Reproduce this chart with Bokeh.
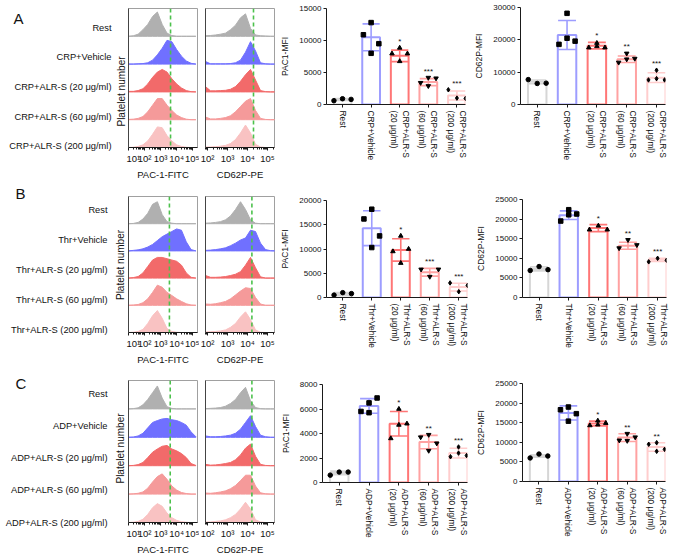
import math
from bokeh.plotting import figure
from bokeh.layouts import row, column
from bokeh.models import LinearAxis, FixedTicker, Range1d, ColumnDataSource, Span
from bokeh.embed import file_html
from bokeh.resources import INLINE
from bokeh.core.properties import value

FONT = "Liberation Sans"

# ------------------------------------------------------------------ data
PAC_X = [1.0, 1.3, 1.6, 1.9, 2.2, 2.5, 2.8, 3.1, 3.4, 3.7, 4.0, 4.3, 4.6, 4.9, 5.2]
CD_X = [1.9, 2.15, 2.4, 2.65, 2.9, 3.15, 3.4, 3.65, 3.9, 4.15, 4.4, 4.65, 4.9, 5.15, 5.4]
PAC_TICKS = [1, 2, 3, 4, 5]
PAC_TICK_LABELS = ["10¹", "10²", "10³", "10⁴", "10⁵"]
CD_TICKS = [2, 3, 4, 5]
CD_TICK_LABELS = ["10²", "10³", "10⁴", "10⁵"]

ROW_LABELS_A = ["Rest", "CRP+Vehicle", "CRP+ALR-S (20 μg/ml)", "CRP+ALR-S (60 μg/ml)", "CRP+ALR-S (200 μg/ml)"]
ROW_LABELS_B = ["Rest", "Thr+Vehicle", "Thr+ALR-S (20 μg/ml)", "Thr+ALR-S (60 μg/ml)", "Thr+ALR-S (200 μg/ml)"]
ROW_LABELS_C = ["Rest", "ADP+Vehicle", "ADP+ALR-S (20 μg/ml)", "ADP+ALR-S (60 μg/ml)", "ADP+ALR-S (200 μg/ml)"]
CATS_A = ["Rest", "CRP+Vehicle", "CRP+ALR-S\n(20 μg/ml)", "CRP+ALR-S\n(60 μg/ml)", "CRP+ALR-S\n(200 μg/ml)"]
CATS_B = ["Rest", "Thr+Vehicle", "Thr+ALR-S\n(20 μg/ml)", "Thr+ALR-S\n(60 μg/ml)", "Thr+ALR-S\n(200 μg/ml)"]
CATS_C = ["Rest", "ADP+Vehicle", "ADP+ALR-S\n(20 μg/ml)", "ADP+ALR-S\n(60 μg/ml)", "ADP+ALR-S\n(200 μg/ml)"]

GATE_PAC = [3.62, 3.55, 3.6]
GATE_CD = [4.3, 4.22, 4.22]

A_PAC_HIST = [
    [0, 0.02, 0.08, 0.25, 0.45, 0.75, 0.92, 0.45, 0.12, 0.03, 0, 0, 0, 0, 0],
    [0, 0, 0.01, 0.02, 0.05, 0.15, 0.35, 0.6, 0.9, 0.85, 0.55, 0.3, 0.12, 0.03, 0],
    [0.02, 0.02, 0.05, 0.12, 0.3, 0.55, 0.75, 0.85, 0.75, 0.5, 0.3, 0.15, 0.05, 0.01, 0],
    [0.01, 0.02, 0.05, 0.12, 0.3, 0.55, 0.8, 0.8, 0.55, 0.35, 0.18, 0.08, 0.02, 0, 0],
    [0, 0.01, 0.04, 0.1, 0.25, 0.5, 0.78, 0.75, 0.45, 0.25, 0.1, 0.04, 0.01, 0, 0],
]
A_CD_HIST = [
    [0.02, 0.03, 0.05, 0.08, 0.12, 0.25, 0.42, 0.7, 0.85, 0.3, 0.05, 0.02, 0.01, 0, 0],
    [0.1, 0.01, 0.01, 0.01, 0.01, 0.02, 0.05, 0.15, 0.45, 0.85, 0.5, 0.05, 0.01, 0, 0],
    [0.2, 0.04, 0.04, 0.05, 0.06, 0.1, 0.2, 0.4, 0.65, 0.85, 0.45, 0.05, 0.01, 0, 0],
    [0.1, 0.03, 0.03, 0.05, 0.08, 0.15, 0.3, 0.5, 0.7, 0.8, 0.35, 0.05, 0.01, 0, 0],
    [0.02, 0.02, 0.03, 0.05, 0.08, 0.15, 0.3, 0.55, 0.85, 0.55, 0.12, 0.02, 0, 0, 0],
]
B_PAC_HIST = [
    [0, 0.01, 0.05, 0.18, 0.4, 0.75, 0.85, 0.35, 0.08, 0.02, 0, 0, 0, 0, 0],
    [0, 0.02, 0.04, 0.08, 0.15, 0.25, 0.4, 0.55, 0.65, 0.75, 0.85, 0.8, 0.35, 0.05, 0],
    [0, 0.02, 0.06, 0.2, 0.45, 0.7, 0.8, 0.8, 0.75, 0.7, 0.65, 0.5, 0.2, 0.03, 0],
    [0, 0.01, 0.03, 0.1, 0.25, 0.5, 0.78, 0.7, 0.5, 0.38, 0.25, 0.15, 0.06, 0.01, 0],
    [0, 0.01, 0.04, 0.12, 0.35, 0.65, 0.85, 0.55, 0.15, 0.04, 0.01, 0, 0, 0, 0],
]
B_CD_HIST = [
    [0.02, 0.03, 0.05, 0.08, 0.15, 0.3, 0.55, 0.85, 0.55, 0.15, 0.02, 0, 0, 0, 0],
    [0.02, 0.03, 0.05, 0.08, 0.12, 0.2, 0.3, 0.42, 0.5, 0.8, 0.75, 0.3, 0.05, 0.01, 0],
    [0.1, 0.03, 0.03, 0.04, 0.06, 0.1, 0.15, 0.25, 0.5, 0.8, 0.4, 0.05, 0, 0, 0],
    [0.05, 0.04, 0.06, 0.1, 0.15, 0.25, 0.4, 0.55, 0.68, 0.65, 0.3, 0.05, 0, 0, 0],
    [0.02, 0.03, 0.04, 0.06, 0.1, 0.2, 0.35, 0.6, 0.8, 0.5, 0.1, 0.01, 0, 0, 0],
]
C_PAC_HIST = [
    [0, 0.01, 0.04, 0.15, 0.35, 0.6, 0.85, 0.4, 0.08, 0.02, 0, 0, 0, 0, 0],
    [0, 0.01, 0.05, 0.15, 0.35, 0.55, 0.62, 0.68, 0.7, 0.65, 0.62, 0.55, 0.45, 0.2, 0.02],
    [0, 0.01, 0.04, 0.12, 0.3, 0.5, 0.62, 0.72, 0.75, 0.62, 0.55, 0.45, 0.3, 0.08, 0.01],
    [0, 0.01, 0.03, 0.08, 0.22, 0.45, 0.65, 0.75, 0.55, 0.3, 0.15, 0.06, 0.02, 0, 0],
    [0, 0.01, 0.04, 0.12, 0.3, 0.55, 0.7, 0.6, 0.35, 0.18, 0.08, 0.03, 0.01, 0, 0],
]
C_CD_HIST = [
    [0.01, 0.02, 0.03, 0.05, 0.1, 0.2, 0.35, 0.6, 0.8, 0.3, 0.05, 0.01, 0, 0, 0],
    [0.05, 0.02, 0.02, 0.03, 0.05, 0.08, 0.15, 0.3, 0.55, 0.8, 0.4, 0.08, 0.02, 0, 0],
    [0.05, 0.02, 0.03, 0.05, 0.08, 0.12, 0.22, 0.4, 0.65, 0.8, 0.35, 0.05, 0.01, 0, 0],
    [0.04, 0.03, 0.05, 0.08, 0.12, 0.2, 0.32, 0.5, 0.7, 0.7, 0.3, 0.05, 0.01, 0, 0],
    [0.02, 0.02, 0.04, 0.06, 0.1, 0.18, 0.3, 0.5, 0.75, 0.5, 0.1, 0.02, 0, 0, 0],
]

A_PAC_MEAN = [780, 10500, 7600, 3500, 1400]
A_PAC_SD = [150, 2100, 900, 550, 700]
A_PAC_PTS = [[600, 900, 800], [12800, 10900, 9500, 8000], [8850, 7950, 7950, 6750], [4200, 3400, 4100, 2900], [2300, 1000, 950]]
A_PAC_STARS = ["", "", "*", "***", "***"]
A_PAC_TICKS = [0, 5000, 10000, 15000]

A_CD_MEAN = [7000, 21500, 18200, 14000, 8300]
A_CD_SD = [600, 4500, 1000, 1000, 1500]
A_CD_PTS = [[7700, 6500, 6600], [28200, 18600, 19600, 20500], [19000, 17600, 17600, 18000], [15800, 13000, 14200, 14000], [10600, 7600, 7600, 8000]]
A_CD_STARS = ["", "", "*", "**", "***"]
A_CD_TICKS = [0, 10000, 20000, 30000]

B_PAC_MEAN = [750, 14300, 9800, 5200, 2150]
B_PAC_SD = [250, 3600, 2300, 800, 800]
B_PAC_PTS = [[500, 1000, 800], [18200, 16200, 12700, 10300], [12700, 9500, 10000, 7100], [5800, 4300, 5800], [3000, 1200, 2500]]
B_PAC_STARS = ["", "", "*", "***", "***"]
B_PAC_TICKS = [0, 5000, 10000, 15000, 20000]

B_CD_MEAN = [7300, 21000, 17700, 13200, 9600]
B_CD_SD = [500, 1100, 900, 900, 400]
B_CD_PTS = [[6900, 7900, 7100], [22400, 19500, 21300, 21100], [17300, 18300, 17300], [12600, 14700, 13400], [9100, 10000, 9500]]
B_CD_STARS = ["", "", "*", "**", "***"]
B_CD_TICKS = [0, 5000, 10000, 15000, 20000, 25000]

C_PAC_MEAN = [780, 6250, 4800, 3300, 2400]
C_PAC_SD = [150, 600, 1000, 550, 400]
C_PAC_PTS = [[600, 850, 850], [6500, 5800, 6900, 5700], [6000, 3600, 4800, 4700], [3900, 3700, 3200, 2600], [2900, 2100, 2200, 2400]]
C_PAC_STARS = ["", "", "*", "**", "***"]
C_PAC_TICKS = [0, 2000, 4000, 6000, 8000]

C_CD_MEAN = [6500, 17500, 14800, 11200, 8800]
C_CD_SD = [300, 1800, 600, 1000, 1100]
C_CD_PTS = [[6000, 7000, 6500], [19000, 18300, 17300, 15400], [15500, 14300, 14900, 14500], [12200, 10500, 11300, 10400], [9900, 9500, 8200, 7700]]
C_CD_STARS = ["", "", "*", "**", "**"]
C_CD_TICKS = [0, 5000, 10000, 15000, 20000, 25000]

# ------------------------------------------------------------------ style
HIST_COLORS = ["#b0b0b0", "#7070ff", "#f26a6a", "#f59a9a", "#f9c2c2"]
BAR_COLORS = ["#d6d6d6", "#9d9dff", "#ff7676", "#ffa2a2", "#ffcdcd"]
MARKERS = ["circle", "square", "triangle", "inverted_triangle", "diamond"]
JIT = {3: [-0.3, 0.0, 0.3], 4: [0.0, -0.27, 0.27, 0.0]}
AXIS_COLOR = "#1a1a1a"
TXT = "#111111"


def style_axis(ax, tick_size="8.5px", label_size="9.5px"):
    ax.major_label_text_font = FONT
    ax.major_label_text_font_size = tick_size
    ax.major_label_text_color = TXT
    ax.axis_label_text_font = FONT
    ax.axis_label_text_font_size = label_size
    ax.axis_label_text_font_style = "normal"
    ax.axis_label_text_color = TXT
    ax.axis_line_color = AXIS_COLOR
    ax.major_tick_line_color = AXIS_COLOR
    ax.minor_tick_line_color = AXIS_COLOR
    ax.major_tick_in = 0
    ax.minor_tick_in = 0
    ax.major_tick_out = 3
    ax.minor_tick_out = 2


def base_fig(w, h, bl, br, bt, bb, xr, yr):
    p = figure(width=w, height=h, x_range=Range1d(*xr), y_range=Range1d(*yr),
               x_axis_type=None, y_axis_type=None, output_backend="svg",
               toolbar_location=None, min_border_left=bl, min_border_right=br,
               min_border_top=bt, min_border_bottom=bb)
    p.frame_align = False
    p.background_fill_color = "white"
    p.border_fill_color = "white"
    return p


def make_labels(w, h, lab):
    """Row labels, 'Platelet number' and the panel letter, placed in pixel space."""
    p = base_fig(w, h, 0, 0, 0, 0, (0, w), (0, h))
    p.outline_line_color = None
    ys = [h - (lab["first"] + lab["step"] * i) for i in range(len(lab["rows"]))]
    p.text(x=[lab["right"]] * len(ys), y=ys, text=lab["rows"], text_font=value(FONT),
           text_font_size="9.3px", text_align="right", text_baseline="middle", text_color=TXT)
    p.text(x=[lab["pn_x"]], y=[h - lab["pn_y"]], text=["Platelet number"], angle=math.pi / 2,
           text_font=value(FONT), text_font_size="10px", text_align="center",
           text_baseline="middle", text_color=TXT)
    p.text(x=[lab["letter_x"]], y=[h - lab["letter_y"]], text=[lab["letter"]],
           text_font=value(FONT), text_font_size="15px", text_align="left",
           text_baseline="top", text_color=TXT)
    return p


def make_hist(geom, h, xr, xpts, hists, gate, ticks, tick_labels, xlabel):
    w, bl, br, bt, bb = geom
    p = base_fig(w, h, bl, br, bt, bb, xr, (0, 10))
    p.outline_line_color = "#a0a0a0"
    xs, ys = [], []
    for i, vals in enumerate(hists):
        base = 8 - 2 * i
        xs.append(list(xpts) + list(xpts[::-1]))
        ys.append([base + 1.9 * v for v in vals] + [base] * len(xpts))
    src = ColumnDataSource(dict(xs=xs, ys=ys, c=HIST_COLORS))
    p.patches(xs="xs", ys="ys", fill_color="c", line_color="c", line_width=1, source=src)
    p.add_layout(Span(location=gate, dimension="height", line_color="#4cc14c",
                      line_dash="4 3", line_width=1.6))
    minor = [n + math.log10(k) for n in range(0, 6) for k in range(2, 10)]
    minor = [m for m in minor if xr[0] < m < xr[1]]
    xax = LinearAxis(ticker=FixedTicker(ticks=ticks, minor_ticks=minor),
                     major_label_overrides={t: l for t, l in zip(ticks, tick_labels)},
                     axis_label=xlabel)
    style_axis(xax, "9.5px", "9.5px")
    xax.major_label_standoff = 2
    xax.axis_label_standoff = 2
    p.add_layout(xax, "below")
    ax1 = LinearAxis(ticker=FixedTicker(ticks=[]))
    style_axis(ax1)
    ax1.major_tick_out = 0
    ax1.minor_tick_out = 0
    ax1.major_label_standoff = 0
    ax1.axis_line_color = "#444444"
    p.add_layout(ax1, "left")
    return p


def make_bar(geom, h, means, sds, pts, stars, yticks, ylabel, cats):
    w, bl, br, bt, bb = geom
    ymax = yticks[-1]
    p = base_fig(w, h, bl, br, bt, bb, (-0.56, 4.3), (0, ymax))
    p.outline_line_color = None
    yax = LinearAxis(ticker=FixedTicker(ticks=yticks), axis_label=ylabel)
    style_axis(yax, "8px", "8.5px")
    yax.major_label_standoff = 2
    yax.axis_label_standoff = 6
    p.add_layout(yax, "left")
    xax = LinearAxis(ticker=FixedTicker(ticks=list(range(len(cats)))),
                     major_label_overrides={i: c for i, c in enumerate(cats)})
    style_axis(xax, "8.4px")
    xax.major_label_orientation = "vertical"
    xax.major_label_standoff = 3
    p.add_layout(xax, "below")

    idx = list(range(len(means)))
    lo = [m - s for m, s in zip(means, sds)]
    hi = [m + s for m, s in zip(means, sds)]
    bsrc = ColumnDataSource(dict(x=idx, top=means, lo=lo, hi=hi, c=BAR_COLORS,
                                 x0=[i - 0.3 for i in idx], x1=[i + 0.3 for i in idx]))
    p.vbar(x="x", top="top", width=0.62, bottom=0, fill_color="white", line_color="c",
           line_width=2, source=bsrc)
    p.segment(x0="x", y0="lo", x1="x", y1="hi", line_color="c", line_width=1.6, source=bsrc)
    p.segment(x0="x0", y0="hi", x1="x1", y1="hi", line_color="c", line_width=1.6, source=bsrc)
    p.segment(x0="x0", y0="lo", x1="x1", y1="lo", line_color="c", line_width=1.6, source=bsrc)

    px, py, pm = [], [], []
    for g, vals in enumerate(pts):
        for o, v in zip(JIT[len(vals)], vals):
            px.append(g + o)
            py.append(v)
            pm.append(MARKERS[g])
    p.scatter(x="x", y="y", marker="m", size=4.5, fill_color="black", line_color="black",
              source=ColumnDataSource(dict(x=px, y=py, m=pm)))

    sy = [max(max(v), hh) + 0.02 * ymax for v, hh in zip(pts, hi)]
    p.text(x=idx, y=sy, text=stars, text_font=value(FONT), text_font_size="8px",
           text_align="center", text_baseline="bottom", text_color=TXT)
    return p


def panel(h, lab, geoms, hists, bar1, bar2, cats):
    gL, gH1, gH2, gB1, gB2 = geoms
    lf = make_labels(gL, h, lab)
    h1 = make_hist(gH1, h, (1.0, 5.3), PAC_X, hists[0], hists[2],
                   PAC_TICKS, PAC_TICK_LABELS, "PAC-1-FITC")
    h2 = make_hist(gH2, h, (1.9, 5.35), CD_X, hists[1], hists[3],
                   CD_TICKS, CD_TICK_LABELS, "CD62P-PE")
    b1 = make_bar(gB1, h, *bar1, "PAC1-MFI", cats)
    b2 = make_bar(gB2, h, *bar2, "CD62P-MFI", cats)
    return row(lf, h1, h2, b1, b2)


# geometry: label width, then (width, border_left, border_right, border_top, border_bottom)
rowA = panel(182,
             dict(rows=ROW_LABELS_A, first=27, step=29.7, right=111, pn_x=120.5, pn_y=91,
                  letter="A", letter_x=13, letter_y=9),
             [126, (73, 2, 2, 8, 29), (78, 6, 3, 8, 29), (191, 41, 3, 8, 78), (209, 52, 12, 7, 78)],
             (A_PAC_HIST, A_CD_HIST, GATE_PAC[0], GATE_CD[0]),
             (A_PAC_MEAN, A_PAC_SD, A_PAC_PTS, A_PAC_STARS, A_PAC_TICKS),
             (A_CD_MEAN, A_CD_SD, A_CD_PTS, A_CD_STARS, A_CD_TICKS), CATS_A)
rowB = panel(185,
             dict(rows=ROW_LABELS_B, first=27, step=30, right=107, pn_x=120, pn_y=82.5,
                  letter="B", letter_x=15, letter_y=2),
             [126, (73, 2, 2, 14, 29), (78, 6, 3, 14, 29), (191, 46, 1, 18, 70), (209, 54, 11, 17, 70)],
             (B_PAC_HIST, B_CD_HIST, GATE_PAC[1], GATE_CD[1]),
             (B_PAC_MEAN, B_PAC_SD, B_PAC_PTS, B_PAC_STARS, B_PAC_TICKS),
             (B_CD_MEAN, B_CD_SD, B_CD_PTS, B_CD_STARS, B_CD_TICKS), CATS_B)
rowC = panel(190,
             dict(rows=ROW_LABELS_C, first=26, step=32.25, right=107, pn_x=120, pn_y=81,
                  letter="C", letter_x=15, letter_y=7.5),
             [126, (73, 2, 2, 13, 32), (78, 6, 3, 13, 32), (191, 41, 1, 17, 75), (209, 54, 12, 16, 76)],
             (C_PAC_HIST, C_CD_HIST, GATE_PAC[2], GATE_CD[2]),
             (C_PAC_MEAN, C_PAC_SD, C_PAC_PTS, C_PAC_STARS, C_PAC_TICKS),
             (C_CD_MEAN, C_CD_SD, C_CD_PTS, C_CD_STARS, C_CD_TICKS), CATS_C)

layout = column(rowA, rowB, rowC)
open("out.html", "w").write(file_html(layout, INLINE))
